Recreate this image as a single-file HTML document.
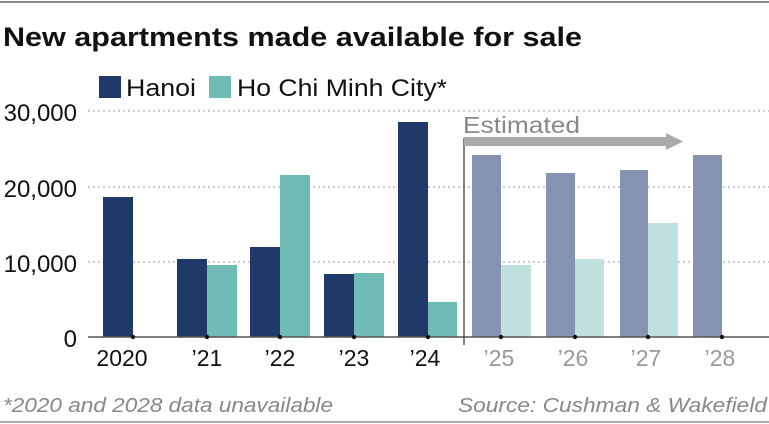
<!DOCTYPE html><html><head><style>body{margin:0;background:#fff}svg{display:block}</style></head><body>
<svg width="769" height="424" xmlns="http://www.w3.org/2000/svg" font-family="Liberation Sans, sans-serif">
<rect width="769" height="424" fill="#fff"/>
<line x1="0" y1="2" x2="769" y2="2" stroke="#888" stroke-width="2"/>
<line x1="0" y1="422" x2="769" y2="422" stroke="#aaa" stroke-width="2"/>
<text x="3" y="46" font-size="27" font-weight="bold" fill="#111" textLength="579" lengthAdjust="spacingAndGlyphs">New apartments made available for sale</text>
<rect x="99" y="76" width="22" height="22" fill="#1f3a68"/>
<text x="126" y="96" font-size="24" fill="#111" textLength="70" lengthAdjust="spacingAndGlyphs">Hanoi</text>
<rect x="209" y="76" width="22" height="22" fill="#6fbcb7"/>
<text x="237" y="96" font-size="24" fill="#111" textLength="210" lengthAdjust="spacingAndGlyphs">Ho Chi Minh City*</text>
<g stroke="#bbb" stroke-dasharray="2,3" stroke-width="1.5">
<line x1="88" y1="111" x2="769" y2="111"/><line x1="88" y1="187" x2="769" y2="187"/><line x1="88" y1="262" x2="769" y2="262"/></g>
<g font-size="24" fill="#111" text-anchor="end">
<text x="77" y="121">30,000</text><text x="77" y="197">20,000</text><text x="77" y="272">10,000</text><text x="77" y="347">0</text></g>
<g fill="#1f3a68">
<rect x="103" y="197" width="30" height="140"/><rect x="177" y="259" width="30" height="78"/><rect x="250" y="247" width="30" height="90"/><rect x="324" y="274" width="30" height="63"/><rect x="398" y="122" width="30" height="215"/></g>
<g fill="#6fbcb7">
<rect x="207" y="265" width="30" height="72"/><rect x="280" y="175" width="30" height="162"/><rect x="354" y="273" width="30" height="64"/><rect x="428" y="302" width="29" height="35"/></g>
<g fill="#8592b1">
<rect x="472" y="155" width="29" height="182"/><rect x="546" y="173" width="29" height="164"/><rect x="620" y="170" width="28" height="167"/><rect x="693" y="155" width="29" height="182"/></g>
<g fill="#c0e0dd">
<rect x="501" y="265" width="30" height="72"/><rect x="575" y="259" width="29" height="78"/><rect x="648" y="223" width="30" height="114"/></g>
<line x1="88" y1="337" x2="769" y2="337" stroke="#555" stroke-width="1.5"/>
<g fill="#111"><circle cx="133" cy="337" r="2.2"/><circle cx="207" cy="337" r="2.2"/><circle cx="280" cy="337" r="2.2"/><circle cx="354" cy="337" r="2.2"/><circle cx="428" cy="337" r="2.2"/><circle cx="501" cy="337" r="2.2"/><circle cx="575" cy="337" r="2.2"/><circle cx="648" cy="337" r="2.2"/><circle cx="722" cy="337" r="2.2"/></g>
<line x1="464" y1="138" x2="464" y2="345" stroke="#333" stroke-width="1.2"/>
<rect x="464" y="137" width="204" height="9" fill="#aaa"/>
<polygon points="666,133 683,141.5 666,150" fill="#aaa"/>
<text x="463" y="133" font-size="23" fill="#888" textLength="117" lengthAdjust="spacingAndGlyphs">Estimated</text>
<g font-size="23" text-anchor="middle" fill="#111">
<text x="122" y="366">2020</text><text x="207" y="366">’21</text><text x="280" y="366">’22</text><text x="354" y="366">’23</text><text x="425" y="366">’24</text></g>
<g font-size="23" text-anchor="middle" fill="#999">
<text x="499" y="366">’25</text><text x="573" y="366">’26</text><text x="646" y="366">’27</text><text x="720" y="366">’28</text></g>
<text x="3" y="412" font-size="20" font-style="italic" fill="#888" textLength="330" lengthAdjust="spacingAndGlyphs">*2020 and 2028 data unavailable</text>
<text x="458" y="412" font-size="20" font-style="italic" fill="#888" textLength="309" lengthAdjust="spacingAndGlyphs">Source: Cushman &amp; Wakefield</text>
</svg></body></html>
